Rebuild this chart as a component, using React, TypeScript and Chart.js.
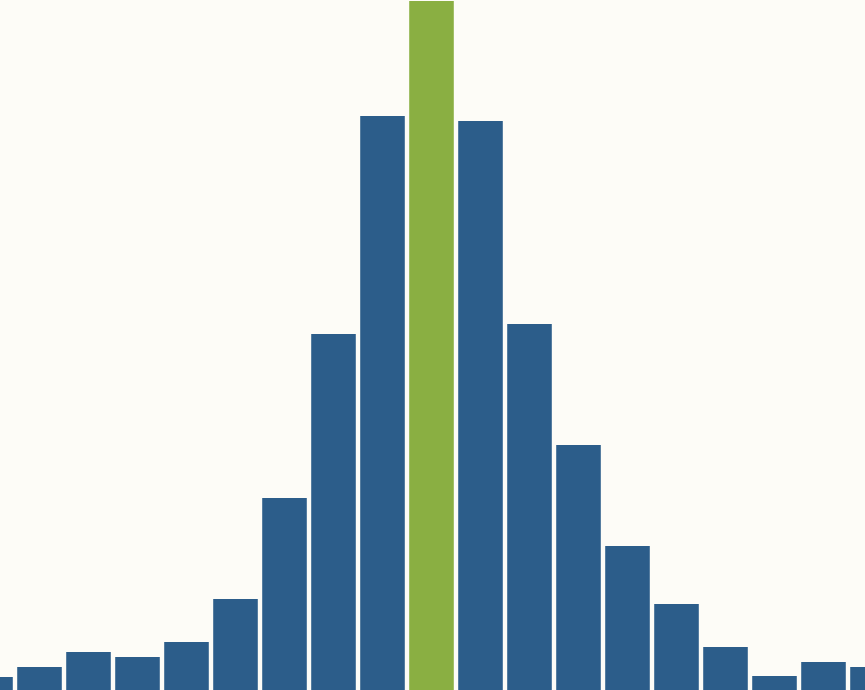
import Chart from 'chart.js/auto';
import React, { useEffect, useRef } from 'react';

// bins of the histogram, including the partly visible ones at both edges
const bins: string[] = [
  '-9', '-8', '-7', '-6', '-5', '-4', '-3', '-2', '-1', '0',
  '1', '2', '3', '4', '5', '6', '7', '8', '9',
];
const counts: number[] = [
  13, 23, 38, 33, 48, 91, 192, 356, 574, 689, 569, 366, 245, 144, 86, 43, 14, 28, 23,
];
const highlightBin = '0';
const yMax = 690;

const BLUE = '#2c5d8a';
const GREEN = '#8aaf42';

const App: React.FC = () => {
  const chartRef = useRef<HTMLCanvasElement>(null);

  useEffect(() => {
    const ctx = chartRef.current?.getContext('2d');
    if (!ctx) return;

    const chart = new Chart(ctx, {
      type: 'bar',
      data: {
        labels: bins,
        datasets: [
          {
            data: counts,
            backgroundColor: bins.map((b) => (b === highlightBin ? GREEN : BLUE)),
            borderWidth: 0,
            barPercentage: 1,
            categoryPercentage: 0.91,
          },
        ],
      },
      options: {
        animation: false,
        responsive: true,
        maintainAspectRatio: false,
        layout: { padding: 0 },
        plugins: {
          legend: { display: false },
          tooltip: { enabled: false },
        },
        scales: {
          x: { display: false },
          y: { display: false, min: 0, max: yMax },
        },
      },
    });

    return () => {
      chart.destroy();
    };
  }, []);

  return (
    <div
      style={{
        position: 'fixed',
        left: 0,
        top: 0,
        width: 865,
        height: 690,
        overflow: 'hidden',
        background: '#fdfcf7',
      }}
    >
      <div style={{ position: 'absolute', left: -34.5, top: 0, width: 931, height: 690 }}>
        <canvas ref={chartRef} />
      </div>
    </div>
  );
};

export default App;
